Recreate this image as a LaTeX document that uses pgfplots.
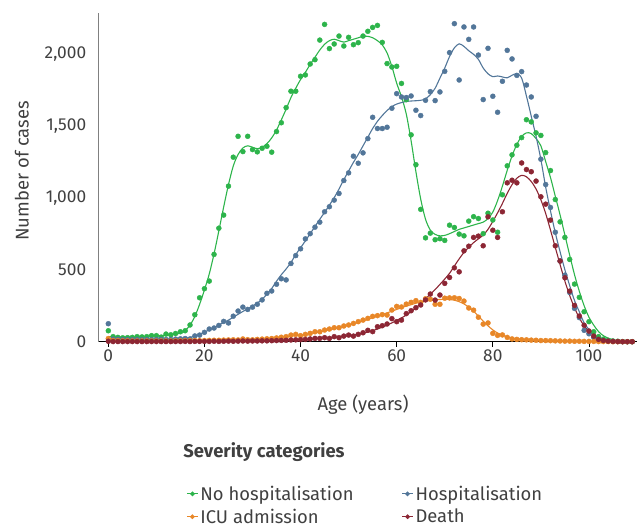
\documentclass[border=0pt]{standalone}
\usepackage{pgfplots}
\pgfplotsset{compat=1.18}
\usepackage{pgfplotstable}
\usepackage{fontspec}
\setmainfont{Fira Sans}
\definecolor{cgreen}{RGB}{45,180,75}
\definecolor{cblue}{RGB}{82,118,153}
\definecolor{corange}{RGB}{232,135,40}
\definecolor{cred}{RGB}{140,38,52}
\definecolor{ctext}{RGB}{64,64,64}
\pgfplotstableread{
a nh nhf ho hof icu icuf de def
0 76 35 125 18 22 10 3 1
1 35 35 18 17 8 7 1 1
2 30 34 16 16 7 6 1 1
3 27 33 15 15 6 5 1 1
4 28 33 14 15 6 5 1 1
5 30 33 14 15 5 5 1 1
6 35 34 15 15 5 5 1 1
7 33 35 14 15 5 5 1 1
8 35 36 15 15 5 5 1 1
9 42 38 14 15 5 5 1 1
10 42 40 15 15 5 5 1 1
11 32 42 16 16 5 5 1 1
12 53 45 15 16 5 5 1 1
13 48 48 16 17 5 5 1 1
14 57 52 18 18 6 5 1 1
15 69 60 20 20 6 6 1 1
16 76 78 22 24 7 6 2 2
17 116 115 19 30 7 6 1 2
18 187 175 40 40 8 7 2 2
19 305 260 46 52 7 7 2 2
20 368 360 65 66 8 8 2 2
21 421 470 88 82 9 8 2 2
22 606 610 95 98 10 9 3 3
23 788 770 113 115 10 10 2 3
24 879 935 141 133 11 11 3 3
25 1080 1090 130 150 12 12 4 3
26 1281 1220 177 170 13 13 3 4
27 1426 1300 213 190 12 13 4 4
28 1320 1345 240 210 19 14 5 4
29 1426 1360 224 228 14 15 4 5
30 1334 1350 240 248 13 16 5 5
31 1318 1340 260 268 16 17 5 6
32 1343 1350 290 295 18 19 6 6
33 1357 1375 336 330 20 21 6 7
34 1316 1415 352 370 22 23 7 7
35 1459 1470 399 420 26 26 8 8
36 1520 1540 437 465 31 30 9 9
37 1625 1615 429 505 35 34 10 10
38 1739 1695 543 550 46 38 12 11
39 1739 1760 598 605 51 42 13 12
40 1843 1820 645 652 42 46 14 14
41 1852 1870 714 700 51 51 16 16
42 1928 1925 750 750 58 57 19 18
43 1958 1975 795 800 69 63 23 20
44 2094 2025 830 850 69 69 23 22
45 2203 2065 902 898 81 76 28 24
46 2035 2090 937 948 88 83 23 27
47 2067 2100 983 1000 97 90 35 30
48 2122 2090 1029 1060 97 98 28 33
49 2053 2080 1119 1125 109 106 39 37
50 2113 2090 1172 1185 116 115 46 41
51 2062 2100 1288 1245 127 124 39 46
52 2076 2110 1239 1300 139 134 51 52
53 2122 2120 1311 1360 150 144 62 59
54 2155 2120 1410 1420 162 155 79 67
55 2182 2110 1558 1480 176 166 70 77
56 2196 2090 1480 1530 181 177 104 88
57 2078 2060 1480 1570 188 188 111 101
58 1931 2005 1489 1605 185 200 123 115
59 1907 1910 1621 1632 220 212 160 131
60 1912 1795 1722 1650 245 224 139 148
61 1793 1700 1699 1660 241 236 150 165
62 1680 1580 1695 1668 261 247 195 185
63 1436 1395 1706 1671 273 257 215 208
64 1229 1180 1607 1673 285 267 236 235
65 919 990 1570 1676 273 275 255 265
66 721 850 1676 1686 298 282 290 298
67 754 775 1736 1715 295 287 331 330
68 708 745 1674 1760 260 291 289 362
69 715 735 1734 1830 260 293 324 398
70 703 738 1877 1900 302 294 405 435
71 809 750 2007 1980 304 293 446 475
72 793 765 2208 2040 305 288 513 525
73 747 780 1817 2068 300 278 485 575
74 735 790 2185 2050 282 262 631 620
75 837 800 2099 2020 234 240 663 655
76 868 810 2185 1995 219 212 724 688
77 855 820 1990 1960 170 178 733 714
78 750 830 1681 1900 122 143 666 740
79 892 855 2037 1860 130 110 867 780
80 845 900 1704 1840 58 82 774 835
81 760 980 1593 1845 44 60 724 895
82 1020 1080 1808 1838 47 45 902 960
83 1221 1190 2023 1832 30 34 1103 1030
84 1297 1290 1963 1850 19 26 1121 1090
85 1364 1370 1849 1860 16 21 1103 1135
86 1417 1425 1875 1830 14 17 1241 1155
87 1541 1450 1782 1705 13 14 1195 1145
88 1526 1445 1699 1565 11 12 1180 1112
89 1450 1410 1565 1425 10 10 1115 1060
90 1432 1360 1267 1265 8 9 1006 985
91 1313 1250 1091 1073 8 8 955 890
92 1188 1140 932 908 7 7 844 775
93 987 1010 760 756 6 6 666 655
94 832 880 560 624 5 5 560 535
95 724 740 462 499 4 5 444 420
96 571 600 342 389 4 4 351 320
97 400 465 231 286 3 3 252 235
98 308 350 167 208 3 3 178 165
99 208 250 79 131 2 2 114 110
100 139 170 55 85 2 2 74 72
101 69 115 30 48 2 1 39 45
102 35 70 15 25 1 1 16 26
103 18 42 8 12 1 1 8 13
104 9 25 4 6 1 0 4 6
105 5 14 2 3 0 0 2 3
106 3 7 1 1 0 0 1 1
107 1 3 0 0 0 0 0 0
108 0 1 0 0 0 0 0 0
109 0 0 0 0 0 0 0 0
}\data
\begin{document}
\begin{tikzpicture}
\path[use as bounding box] (-98.7pt,-185.3pt) rectangle (539.3pt,341.7pt);
\begin{axis}[
  at={(0,0)}, anchor=south west,
  scale only axis, width=538.3pt, height=328.4pt,
  xmin=-2, xmax=110, ymin=0, ymax=2280,
  clip=false,
  axis x line*=bottom, axis y line*=left,
  x axis line style={black, line width=0.9pt},
  y axis line style={black!50, line width=1.3pt},
  xtick={0,20,...,100}, ytick={0,500,...,2000},
  xtick style={black, line width=0.8pt},
  major tick length=5pt,
  ytick style={draw=none},
  tick align=outside,
  /pgf/number format/1000 sep={,},
  /pgf/number format/assume math mode=true,
  tick label style={font=\fontsize{17.3}{20}\selectfont, text=ctext},
  yticklabel style={xshift=-4pt},
  xlabel={Age (years)}, ylabel={Number of cases},
  label style={font=\fontsize{18.4}{22}\selectfont, text=ctext},
  xlabel style={at={(axis description cs:0.491,-0.192)}, anchor=center},
  ylabel style={at={(axis description cs:-0.1426,0.52)}, anchor=center},
  legend columns=2,
  legend cell align=left,
  legend style={at={(axis description cs:0.157,-0.4265)}, anchor=north west, draw=none, fill=none,
    font=\fontsize{18.4}{22}\selectfont, text=ctext,
    /tikz/every even column/.append style={column sep=46pt}, row sep=3pt},
  legend image code/.code={\draw[#1, mark repeat=2, mark phase=2, mark size=1.8pt] plot coordinates {(0pt,0pt) (5.5pt,0pt) (11pt,0pt)};},
]
\addplot[cgreen, only marks, mark=*, mark size=2.5pt, forget plot] table[x=a,y=nh]{\data};
\addplot[cblue, only marks, mark=*, mark size=2.5pt, forget plot] table[x=a,y=ho]{\data};
\addplot[corange, only marks, mark=*, mark size=2.5pt, forget plot] table[x=a,y=icu]{\data};
\addplot[cred, only marks, mark=*, mark size=2.5pt, forget plot] table[x=a,y=de]{\data};
\addplot[cgreen, line width=1.1pt, smooth, no marks, forget plot] table[x=a,y=nhf]{\data};
\addplot[cblue, line width=1.1pt, smooth, no marks, forget plot] table[x=a,y=hof]{\data};
\addplot[corange, line width=1.1pt, smooth, no marks, forget plot] table[x=a,y=icuf]{\data};
\addplot[cred, line width=1.1pt, smooth, no marks, forget plot] table[x=a,y=def]{\data};
\addlegendimage{cgreen, line width=1pt, mark=*}
\addlegendentry{No hospitalisation}
\addlegendimage{cblue, line width=1pt, mark=*}
\addlegendentry{Hospitalisation}
\addlegendimage{corange, line width=1pt, mark=*}
\addlegendentry{ICU admission}
\addlegendimage{cred, line width=1pt, mark=*}
\addlegendentry{Death}
\node[anchor=west, inner sep=0pt, font=\fontsize{18.4}{22}\selectfont\bfseries, text=ctext] at (axis description cs:0.157,-0.335) {Severity categories};
\end{axis}
\end{tikzpicture}
\end{document}
